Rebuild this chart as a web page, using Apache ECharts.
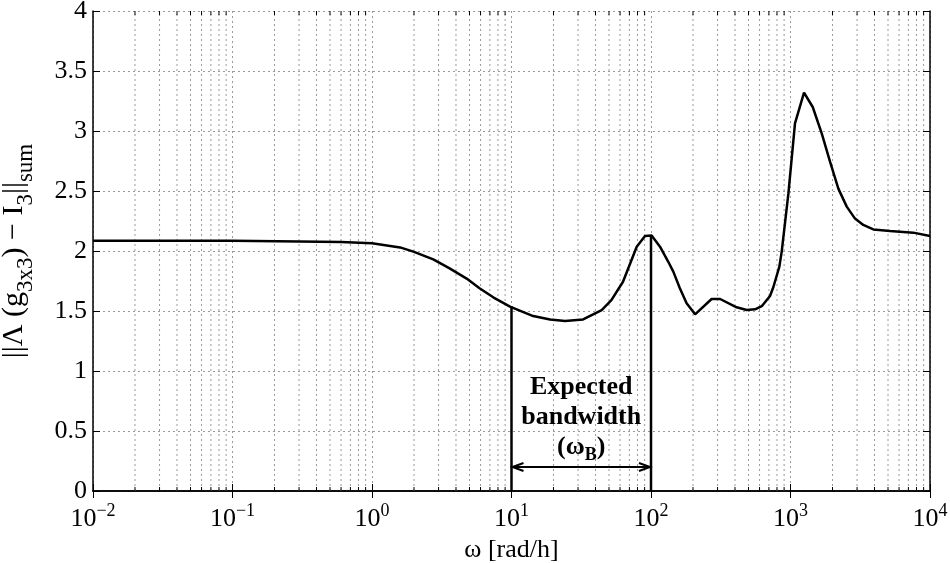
<!DOCTYPE html>
<html>
<head>
<meta charset="utf-8">
<script src="https://cdn.jsdelivr.net/npm/echarts@6/dist/echarts.min.js"></script>
<style>
  html, body { margin: 0; background: #fff; }
  #chart { width: 950px; height: 563px; }
</style>
</head>
<body>
<div id="chart"></div>
<script>
// frequency [rad/h] and ||Lambda(g3x3) - I3||_sum
var omega = [0.01, 0.03, 0.1, 0.3, 0.6, 1, 1.59, 1.98, 2.75, 3.6, 4.77, 5.9, 7.4, 9.75, 14.3, 18.9,
  24.2, 32.6, 44.3, 52, 63, 79, 90.6, 101, 116, 133, 144.5, 161, 180, 207, 272, 313, 411, 485,
  557, 622, 713, 754, 832, 865, 966, 1077, 1250, 1443, 1674, 1920, 2203, 2530, 2900, 3325,
  3925, 5170, 7590, 10000];
var norm = [2.085, 2.085, 2.085, 2.08, 2.075, 2.064, 2.03, 1.995, 1.93, 1.855, 1.77, 1.69, 1.614, 1.536, 1.458, 1.43,
  1.417, 1.43, 1.508, 1.59, 1.744, 2.036, 2.125, 2.13, 2.036, 1.91, 1.828, 1.69, 1.564, 1.472, 1.6, 1.6, 1.531, 1.508,
  1.514, 1.54, 1.625, 1.70, 1.87, 1.995, 2.48, 3.064, 3.32, 3.2, 2.98, 2.744, 2.52, 2.37, 2.27, 2.217,
  2.18, 2.167, 2.153, 2.125];

var xMin = 0.01, xMax = 10000;
var yMin = 0, yMax = 4, yStep = 0.5;
var decades = [0.01, 0.1, 1, 10, 100, 1000];
var minorMult = [2, 3, 4, 5, 6, 7, 8, 9];

// bandwidth annotation
var bandLo = 10, bandHi = 100;
var bandLoTop = 1.54, bandHiTop = 2.13;
var arrowY = 0.2;
var noteX = 31.6, noteY = 0.6;

var minorTicks = [];
decades.forEach(function (d) {
  minorMult.forEach(function (m) { minorTicks.push(d * m); });
});

var font = 'Liberation Serif';
var gridColor = '#9a9a9a';

var chart = echarts.init(document.getElementById('chart'));

function expLabel(v) {
  var e = Math.round(Math.log10(v));
  return '{b|10}{s|' + (e < 0 ? '\u2212' + (-e) : e) + '}';
}

var option = {
  animation: false,
  grid: { left: 93, right: 20, top: 11, bottom: 72, outerBoundsMode: 'none' },
  xAxis: [{
    type: 'log', logBase: 10, min: xMin, max: xMax, splitNumber: 6,
    name: '\u03c9 [rad/h]', nameLocation: 'middle', nameGap: 44,
    nameTextStyle: { fontFamily: font, fontSize: 26, color: '#000' },
    axisLine: { lineStyle: { color: '#000', width: 1.5 } },
    axisTick: { inside: true, length: 7, lineStyle: { color: '#000', width: 1 } },
    axisLabel: {
      margin: 11, formatter: expLabel,
      rich: {
        b: { fontFamily: font, fontSize: 26, color: '#000', lineHeight: 30, verticalAlign: 'bottom' },
        s: { fontFamily: font, fontSize: 18, color: '#000', lineHeight: 30, verticalAlign: 'top' }
      }
    },
    splitLine: { show: true, lineStyle: { color: gridColor, width: 1, type: [2, 3] } }
  }, {
    type: 'log', logBase: 10, min: xMin, max: xMax, splitNumber: 6, position: 'top',
    axisLine: { lineStyle: { color: '#000', width: 1.5 } },
    axisTick: { inside: true, length: 7, lineStyle: { color: '#000', width: 1 } },
    axisLabel: { show: false },
    splitLine: { show: false }
  }],
  yAxis: [{
    type: 'value', min: yMin, max: yMax, interval: yStep,
    name: '{m|||\u039b (g}{s|3x3}{m|) \u2212 I}{s|3}{m|||}{s|sum}',
    nameLocation: 'middle', nameRotate: 90, nameGap: 56,
    nameTextStyle: {
      rich: {
        m: { fontFamily: font, fontSize: 30, color: '#000', lineHeight: 38, verticalAlign: 'top' },
        s: { fontFamily: font, fontSize: 23, color: '#000', lineHeight: 38, verticalAlign: 'bottom' }
      }
    },
    axisLine: { show: true, lineStyle: { color: '#000', width: 1.5 } },
    axisTick: { show: true, inside: true, length: 7, lineStyle: { color: '#000', width: 1 } },
    axisLabel: { fontFamily: font, fontSize: 26, color: '#000', margin: 6 },
    splitLine: { show: true, lineStyle: { color: gridColor, width: 1, type: [2, 3] } }
  }, {
    type: 'value', min: yMin, max: yMax, interval: yStep, position: 'right',
    axisLine: { show: true, lineStyle: { color: '#000', width: 1.5 } },
    axisTick: { show: true, inside: true, length: 7, lineStyle: { color: '#000', width: 1 } },
    axisLabel: { show: false },
    splitLine: { show: false }
  }],
  series: [{
    // minor log grid lines with their small ticks
    type: 'custom', silent: true, z: 1,
    data: minorTicks.map(function (v) { return [v, yMin]; }),
    renderItem: function (params, api) {
      var x = api.value(0);
      var lo = api.coord([x, yMin]), hi = api.coord([x, yMax]);
      return {
        type: 'group', children: [
          { type: 'line', shape: { x1: lo[0], y1: lo[1], x2: hi[0], y2: hi[1] },
            style: { stroke: gridColor, lineWidth: 1, lineDash: [2, 3] } },
          { type: 'line', shape: { x1: lo[0], y1: lo[1], x2: lo[0], y2: lo[1] - 4 },
            style: { stroke: '#000', lineWidth: 1 } },
          { type: 'line', shape: { x1: hi[0], y1: hi[1], x2: hi[0], y2: hi[1] + 4 },
            style: { stroke: '#000', lineWidth: 1 } }
        ]
      };
    }
  }, {
    type: 'line', symbol: 'none', smooth: false, z: 5,
    data: omega.map(function (w, i) { return [w, norm[i]]; }),
    lineStyle: { color: '#000', width: 2.5 }
  }, {
    type: 'line', symbol: 'none', z: 4,
    data: [[bandLo, yMin], [bandLo, bandLoTop]],
    lineStyle: { color: '#000', width: 2.5 }
  }, {
    type: 'line', symbol: 'none', z: 4,
    data: [[bandHi, yMin], [bandHi, bandHiTop]],
    lineStyle: { color: '#000', width: 2.5 }
  }, {
    // double arrow between the band edges
    type: 'custom', silent: true, z: 6,
    data: [[bandLo, arrowY, bandHi]],
    renderItem: function (params, api) {
      var a = api.coord([api.value(0), api.value(1)]);
      var b = api.coord([api.value(2), api.value(1)]);
      var st = { stroke: '#000', lineWidth: 2, fill: null };
      return {
        type: 'group', children: [
          { type: 'line', shape: { x1: a[0], y1: a[1], x2: b[0], y2: b[1] }, style: st },
          { type: 'polyline', shape: { points: [[a[0] + 12, a[1] - 4], [a[0] + 1, a[1]], [a[0] + 12, a[1] + 4]] }, style: st },
          { type: 'polyline', shape: { points: [[b[0] - 12, b[1] - 4], [b[0] - 1, b[1]], [b[0] - 12, b[1] + 4]] }, style: st }
        ]
      };
    }
  }, {
    type: 'custom', silent: true, z: 6,
    data: [[noteX, noteY]],
    renderItem: function (params, api) {
      var p = api.coord([api.value(0), api.value(1)]);
      return {
        type: 'text',
        style: {
          x: p[0], y: p[1], align: 'center', verticalAlign: 'middle',
          text: '{t|Expected}\n{t|bandwidth}\n{t|(\u03c9}{u|B}{t|)}',
          rich: {
            t: { fontFamily: font, fontSize: 26, fontWeight: 'bold', fill: '#000', lineHeight: 30, verticalAlign: 'top' },
            u: { fontFamily: font, fontSize: 18, fontWeight: 'bold', fill: '#000', lineHeight: 30, verticalAlign: 'bottom' }
          }
        }
      };
    }
  }]
};

chart.setOption(option);
</script>
</body>
</html>
